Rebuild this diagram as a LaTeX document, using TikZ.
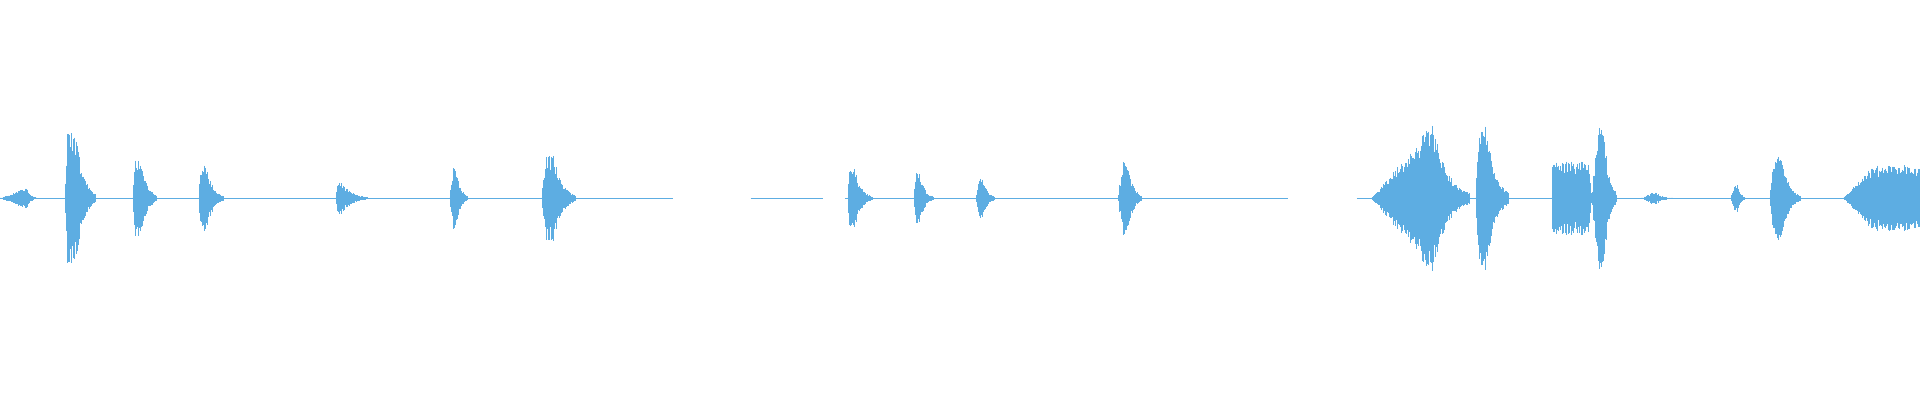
\documentclass[tikz,border=0pt]{standalone}
\definecolor{wave}{RGB}{93,173,226}
% start, peak, sustain end, end, amplitude
\newcommand\burst[5]{%
  \pgfmathtruncatemacro\nn{2*(#4-#1)}%
  \foreach \i in {0,...,\nn}{%
    \pgfmathsetmacro\xx{#1+\i/2}%
    \pgfmathsetmacro\dd{min(8,max(0,2.6*(\xx-#3)/(#4-#3+0.01)))}%
    \pgfmathsetmacro\ee{\xx<#2 ? (\xx-#1)/(#2-#1+0.01) : (\xx<#3 ? 1 : exp(-\dd))}%
    \pgfmathsetmacro\hh{max(0.7,#5*\ee*(0.65+0.35*rnd))}%
    \draw[wavestroke] (\xx,162-\hh) -- (\xx,162+\hh);
  }}
\begin{document}
\begin{tikzpicture}[x=1mm,y=-1mm,wavestroke/.style={wave,line width=0.55mm},base/.style={wave,line width=0.3mm}]
\pgfmathsetseed{7}
\useasboundingbox (0,0) rectangle (1568,327);
\coordinate (b0) at (0,162);
\coordinate (b1) at (550,162);
\coordinate (b2) at (613,162);
\coordinate (b3) at (672,162);
\coordinate (b4) at (690,162);
\coordinate (b5) at (1052,162);
\coordinate (b6) at (1108,162);
\coordinate (b7) at (1568,162);
\draw[base] (b0) -- (b1);
\draw[base] (b2) -- (b3);
\draw[base] (b4) -- (b5);
\draw[base] (b6) -- (b7);
\burst{0}{20}{22}{30}{8}
\burst{53}{55}{62}{78}{54}
\burst{108}{110}{115}{128}{32}
\burst{162}{164}{168}{182}{28}
\burst{274}{276}{278}{300}{14}
\burst{367}{370}{372}{382}{25}
\burst{442}{446}{452}{470}{35}
\burst{692}{694}{698}{712}{24}
\burst{746}{748}{751}{762}{21}
\burst{797}{800}{802}{812}{20}
\burst{913}{917}{921}{932}{30}
\burst{1120}{1168}{1170}{1200}{60}
\burst{1205}{1208}{1214}{1232}{60}
\burst{1267}{1268}{1298}{1300}{30}
\burst{1300}{1305}{1309}{1320}{62}
\burst{1340}{1350}{1352}{1366}{5}
\burst{1413}{1417}{1419}{1425}{12}
\burst{1445}{1449}{1455}{1470}{35}
\burst{1505}{1530}{1568}{1568}{27}
\end{tikzpicture}
\end{document}
